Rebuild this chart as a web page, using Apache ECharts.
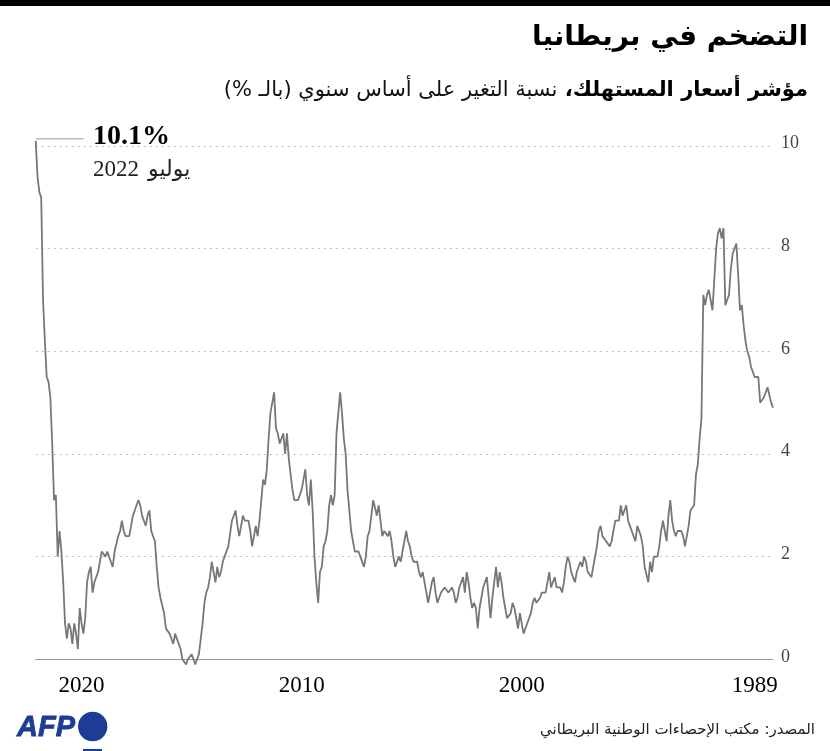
<!DOCTYPE html>
<html dir="rtl">
<head>
<meta charset="utf-8">
<style>
html, body { margin: 0; padding: 0; background: #fff; }
#main { width: 830px; height: 751px; }
</style>
<script src="https://cdn.jsdelivr.net/npm/echarts@6/dist/echarts.min.js"></script>
</head>
<body>
<div id="main"></div>
<script>
// year on year CPI, monthly, Jan 1989 to Jul 2022
var inflation = [
    4.9, 5.0, 5.0, 5.3, 5.3, 5.1, 5.1, 5.0, 5.5, 5.5, 5.5, 5.5, // 1989
    5.7, 5.9, 6.0, 6.2, 6.5, 6.9, 6.8, 7.5, 8.1, 8.1, 7.9, 7.6, // 1990
    7.1, 7.0, 6.9, 8.4, 8.2, 8.4, 8.3, 8.0, 7.4, 6.8, 7.0, 7.2, // 1991
    7.1, 6.9, 7.1, 4.7, 4.3, 3.8, 3.6, 3.0, 3.0, 2.9, 2.6, 2.6, // 1992
    2.2, 2.4, 2.5, 2.5, 2.5, 2.4, 2.5, 2.7, 3.1, 2.8, 2.3, 2.5, // 1993
    2.7, 2.5, 2.2, 2.0, 2.0, 2.0, 1.7, 1.9, 1.5, 1.5, 1.8, 2.2, // 1994
    2.4, 2.4, 2.6, 2.3, 2.4, 2.5, 2.6, 2.7, 3.0, 2.9, 2.8, 3.0, // 1995
    2.7, 2.7, 2.7, 2.5, 2.3, 2.2, 2.2, 2.3, 2.3, 2.4, 2.6, 2.5, // 1996
    2.2, 2.0, 1.8, 1.6, 1.6, 1.7, 1.9, 2.0, 1.8, 1.9, 1.9, 1.7, // 1997
    1.5, 1.6, 1.7, 1.9, 2.0, 1.8, 1.5, 1.3, 1.4, 1.4, 1.4, 1.6, // 1998
    1.5, 1.4, 1.7, 1.5, 1.3, 1.3, 1.3, 1.2, 1.2, 1.1, 1.2, 1.1, // 1999
    0.9, 0.8, 0.8, 0.6, 0.5, 0.7, 0.9, 0.6, 0.8, 1.0, 1.1, 0.9, // 2000
    0.9, 0.8, 1.0, 1.2, 1.5, 1.7, 1.4, 1.8, 1.5, 1.2, 0.8, 1.2, // 2001
    1.6, 1.5, 1.4, 1.4, 1.0, 0.6, 1.0, 1.1, 1.0, 1.2, 1.5, 1.7, // 2002
    1.3, 1.6, 1.5, 1.4, 1.2, 1.1, 1.3, 1.4, 1.4, 1.3, 1.3, 1.4, // 2003
    1.4, 1.3, 1.2, 1.1, 1.3, 1.6, 1.5, 1.3, 1.1, 1.3, 1.5, 1.7, // 2004
    1.6, 1.7, 1.9, 1.9, 1.9, 2.0, 2.2, 2.3, 2.5, 2.3, 2.1, 1.9, // 2005
    2.0, 2.0, 1.8, 2.0, 2.3, 2.5, 2.4, 2.4, 2.5, 2.4, 2.7, 3.0, // 2006
    2.8, 2.8, 3.1, 2.8, 2.5, 2.4, 2.0, 1.8, 1.8, 2.0, 2.1, 2.1, // 2007
    2.1, 2.3, 2.5, 2.5, 3.3, 4.0, 4.3, 4.8, 5.2, 4.8, 4.4, 3.2, // 2008
    3.0, 3.2, 3.0, 2.5, 2.3, 2.2, 1.8, 1.7, 1.1, 1.5, 2.0, 2.9, // 2009
    3.5, 3.0, 3.2, 3.7, 3.5, 3.3, 3.2, 3.1, 3.1, 3.1, 3.3, 3.6, // 2010
    3.9, 4.4, 4.0, 4.4, 4.3, 4.2, 4.4, 4.5, 5.2, 5.0, 4.8, 4.3, // 2011
    3.7, 3.4, 3.5, 3.1, 2.7, 2.4, 2.6, 2.4, 2.2, 2.5, 2.7, 2.7, // 2012
    2.7, 2.8, 2.8, 2.4, 2.6, 2.9, 2.8, 2.7, 2.7, 2.2, 2.1, 2.0, // 2013
    1.9, 1.7, 1.6, 1.8, 1.5, 1.7, 1.9, 1.6, 1.4, 1.3, 1.1, 0.7, // 2014
    0.4, 0.1, 0.0, -0.1, 0.0, 0.1, 0.1, 0.0, -0.1, -0.1, 0.0, 0.2, // 2015
    0.3, 0.3, 0.5, 0.3, 0.4, 0.5, 0.5, 0.6, 0.9, 0.9, 1.2, 1.4, // 2016
    1.8, 2.3, 2.3, 2.5, 2.9, 2.8, 2.6, 2.7, 2.8, 3.0, 3.1, 3.0, // 2017
    3.0, 2.8, 2.6, 2.4, 2.4, 2.4, 2.5, 2.7, 2.5, 2.4, 2.4, 2.1, // 2018
    1.8, 1.9, 1.9, 2.1, 2.0, 2.0, 2.1, 1.9, 1.7, 1.7, 1.5, 1.3, // 2019
    1.8, 1.7, 1.5, 0.8, 0.5, 0.7, 1.0, 0.2, 0.5, 0.7, 0.3, 0.6, // 2020
    0.7, 0.4, 0.7, 1.5, 2.1, 2.5, 2.0, 3.2, 3.1, 4.2, 5.1, 5.4, // 2021
    5.5, 6.2, 7.0, 9.0, 9.1, 9.4, 10.1 // 2022
];

var months = [];
for (var i = 0; i < inflation.length; i++) {
    var mm = i % 12 + 1;
    months.push((1989 + Math.floor(i / 12)) + '-' + (mm < 10 ? '0' + mm : mm));
}

// year labels sit around mid-year on the original
var xTickMonths = ['1989-11', '2000-06', '2010-06', '2020-06'];
var yRange = [0, 10];
var peakValue = 10.1;
// thin leader from the peak towards its label
var leaderLine = [['2022-07', 10.14], ['2020-05', 10.14]];

var serif = '"Liberation Serif", "DejaVu Serif", serif';
var arabic = '"DejaVu Sans", "Noto Sans", sans-serif';

var myChart = echarts.init(document.getElementById('main'), null, { renderer: 'canvas' });

var option = {
    animation: false,
    backgroundColor: '#fff',
    grid: { left: 35.7, right: 57, top: 146, bottom: 91.7 },
    title: [
        {
            text: 'التضخم في بريطانيا',
            right: 22, top: 24, padding: 0,
            textStyle: { fontFamily: arabic, fontWeight: 'bold', fontSize: 28, color: '#000' }
        },
        {
            text: '{n|نسبة التغير على أساس سنوي (بالـ %)}{b|مؤشر أسعار المستهلك، }',
            right: 22, top: 80, padding: 0,
            textStyle: {
                rich: {
                    n: { fontFamily: arabic, fontWeight: 'normal', fontSize: 21, color: '#111' },
                    b: { fontFamily: arabic, fontWeight: 'bold', fontSize: 21, color: '#000' }
                }
            }
        },
        {
            text: 'المصدر: مكتب الإحصاءات الوطنية البريطاني',
            right: 15, top: 723, padding: 0,
            textStyle: { fontFamily: arabic, fontWeight: 'normal', fontSize: 15, color: '#222' }
        }
    ],
    xAxis: {
        type: 'category',
        data: months,
        inverse: true,
        boundaryGap: false,
        axisTick: { show: false },
        axisLine: { lineStyle: { color: '#999', width: 1 } },
        splitLine: { show: false },
        axisLabel: {
            interval: function (index, value) { return xTickMonths.indexOf(value) >= 0; },
            formatter: function (value) { return value.slice(0, 4); },
            margin: 15,
            fontFamily: serif,
            fontSize: 23,
            color: '#000'
        }
    },
    yAxis: {
        type: 'value',
        position: 'right',
        min: yRange[0],
        max: yRange[1],
        interval: 2,
        axisLine: { show: false },
        axisTick: { show: false },
        splitLine: { lineStyle: { type: [2, 4], color: '#bbb', width: 1 } },
        axisLabel: {
            margin: 8,
            formatter: '{t|{value}}',
            rich: {
                // nudges the numbers just above their grid line
                t: { fontFamily: serif, fontSize: 18, color: '#444', padding: [0, 0, 5, 0] }
            }
        }
    },
    series: [
        {
            type: 'line',
            data: inflation,
            showSymbol: false,
            clip: false,
            silent: true,
            lineStyle: { color: '#777', width: 1.8 },
            markPoint: {
                silent: true,
                symbol: 'circle',
                symbolSize: 1,
                itemStyle: { color: 'transparent' },
                data: [{
                    coord: ['2019-12', yRange[1]],
                    label: {
                        show: true,
                        position: 'right',
                        distance: 0,
                        offset: [0, 7],
                        align: 'left',
                        formatter: '{v|' + peakValue + '%}\n{d|2022}{a|يوليو}',
                        rich: {
                            v: { fontFamily: serif, fontWeight: 'bold', fontSize: 28, color: '#000', lineHeight: 34 },
                            d: { fontFamily: serif, fontSize: 23, color: '#222', lineHeight: 32 },
                            a: { fontFamily: arabic, fontSize: 22, color: '#222', lineHeight: 32, padding: [0, 0, 0, 9] }
                        }
                    }
                }]
            }
        },
        {
            type: 'line',
            data: leaderLine,
            showSymbol: false,
            clip: false,
            silent: true,
            lineStyle: { color: '#bbb', width: 1.5 }
        }
    ],
    graphic: [
        { type: 'rect', shape: { x: 0, y: 0, width: 830, height: 6 }, style: { fill: '#000' } },
        { type: 'text', x: 17, y: 713, style: { text: 'AFP', font: 'italic bold 29px "Liberation Sans", sans-serif', fill: '#1d3c96', stroke: '#1d3c96', lineWidth: 0.8 } },
        { type: 'circle', shape: { cx: 92.7, cy: 726.5, r: 14.7 }, style: { fill: '#1d3c96' } },
        { type: 'rect', shape: { x: 83, y: 749, width: 19, height: 2 }, style: { fill: '#1d3c96' } }
    ]
};

myChart.setOption(option);
window.addEventListener('resize', myChart.resize);
</script>
</body>
</html>
